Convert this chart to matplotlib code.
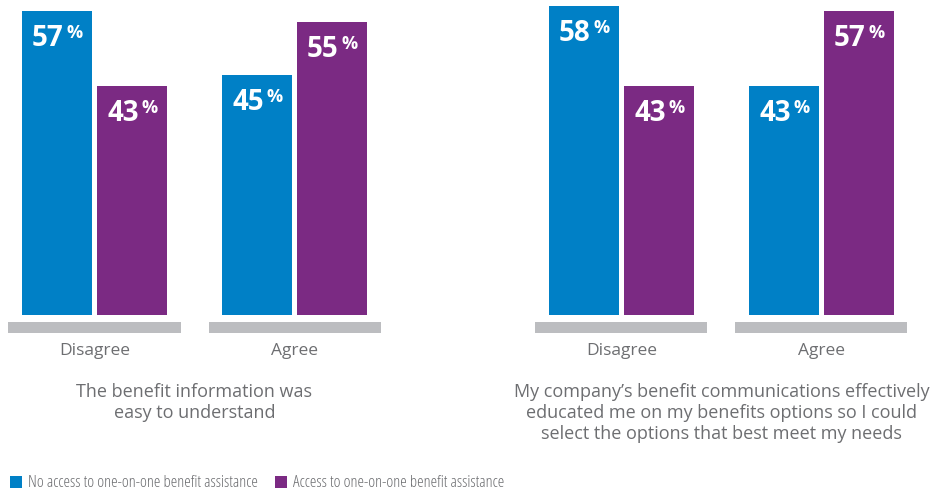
import matplotlib
matplotlib.use("Agg")
import matplotlib.pyplot as plt
from matplotlib.patches import Rectangle

# data
categories = ["Disagree", "Agree", "Disagree", "Agree"]
no_access = [57, 45, 58, 43]
with_access = [43, 55, 43, 57]
questions = [
    "The benefit information was\neasy to understand",
    "My company\u2019s benefit communications effectively\neducated me on my benefits options so I could\nselect the options that best meet my needs",
]
series_names = [
    "No access to one-on-one benefit assistance",
    "Access to one-on-one benefit assistance",
]

BLUE = "#0080c6"
PURPLE = "#7b2a83"
GRAY_BAR = "#bcbdc0"
TEXT = "#6d6e71"
FONT = "Open Sans"

# group centres (1 unit = 200 px)
xpos = [0, 1, 2.635, 3.635]
width = 0.35
off = 0.1875

fig = plt.figure(figsize=(9.35, 4.94), dpi=100)
ax = fig.add_axes([0, 0, 1, 1])
ax.set_xlim(-0.4725, 4.2025)
ax.set_ylim(-33.6, 59.1)
ax.axis("off")

for x, cat, a, b in zip(xpos, categories, no_access, with_access):
    ax.bar(x - off, a, width, color=BLUE, linewidth=0)
    ax.bar(x + off, b, width, color=PURPLE, linewidth=0)
    ax.add_patch(Rectangle((x - 0.43, -3.4), 0.86, 2.05, color=GRAY_BAR, lw=0))
    for xx, v in ((x - off, a), (x + off, b)):
        ax.annotate(f"{v}", (xx, v), xytext=(-6.5, -9.5), textcoords="offset points",
                    ha="center", va="top", color="white", fontsize=20,
                    fontweight="bold", family=FONT)
        ax.annotate("%", (xx, v), xytext=(13, -9.3), textcoords="offset points",
                    ha="center", va="top", color="white", fontsize=13,
                    fontweight="bold", family=FONT)
    ax.text(x, -6.8, cat, ha="center", va="center", color=TEXT, fontsize=12.5,
            family=FONT)

for i, q in enumerate(questions):
    cx = (xpos[2 * i] + xpos[2 * i + 1]) / 2
    ax.text(cx, -12.85, q, ha="center", va="top", color=TEXT, fontsize=13,
            family=FONT, linespacing=1.2)

# legend
for x0, col, name in ((10, BLUE, series_names[0]), (275, PURPLE, series_names[1])):
    fig.patches.append(Rectangle((x0 / 935, 1 - 488 / 494), 12 / 935, 12 / 494,
                                 color=col, transform=fig.transFigure, lw=0))
    fig.text((x0 + 18) / 935, 1 - 483 / 494, name, ha="left", va="center",
             color=TEXT, fontsize=12, family="Open Sans", fontstretch="condensed",
             fontweight=300)

fig.savefig("out.png", dpi=100)
